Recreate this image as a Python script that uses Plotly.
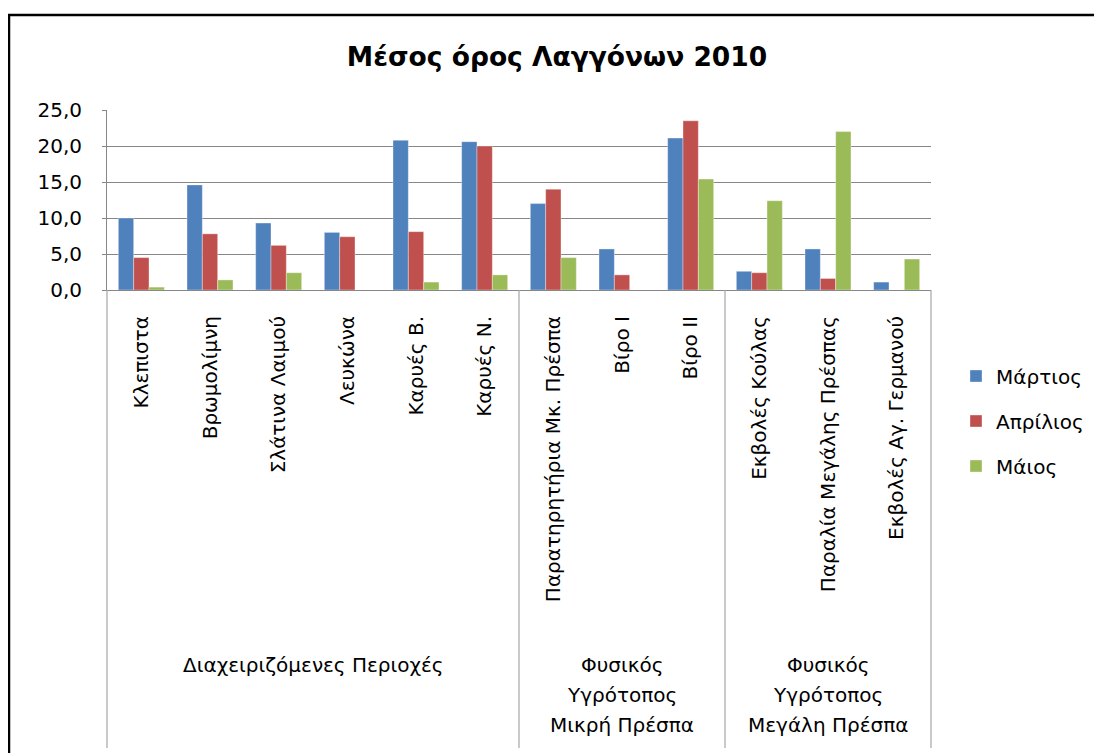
import plotly.graph_objects as go

categories = ["Κλεπιστα", "Βρωμολίμνη", "Σλάτινα Λαιμού", "Λευκώνα", "Καρυές Β.", "Καρυές Ν.",
              "Παρατηρητήρια Μκ. Πρέσπα", "Βίρο Ι", "Βίρο ΙΙ",
              "Εκβολές Κούλας", "Παραλία Μεγάλης Πρέσπας", "Εκβολές Αγ. Γερμανού"]
series_names = ["Μάρτιος", "Απρίλιος", "Μάιος"]
martios = [10.0, 14.6, 9.3, 8.0, 20.8, 20.6, 12.0, 5.7, 21.1, 2.6, 5.7, 1.1]
aprilios = [4.5, 7.8, 6.2, 7.4, 8.1, 20.0, 14.0, 2.1, 23.5, 2.4, 1.6, None]
maios = [0.4, 1.4, 2.4, None, 1.1, 2.1, 4.5, None, 15.4, 12.4, 22.0, 4.3]
group_labels = [["Διαχειριζόμενες Περιοχές"],
                ["Φυσικός", "Υγρότοπος", "Μικρή Πρέσπα"],
                ["Φυσικός", "Υγρότοπος", "Μεγάλη Πρέσπα"]]
group_sizes = [6, 3, 3]
y_ticks = [0, 5, 10, 15, 20, 25]
y_tick_labels = ["0,0", "5,0", "10,0", "15,0", "20,0", "25,0"]
title_text = "Μέσος όρος Λαγγόνων 2010"

colors = ["#4F81BD", "#C0504D", "#9BBB59"]
FONT = "DejaVu Sans"
OFF = 8  # page body margin
W, H = 1102, 753
L, R, T, B = 107 - OFF, 931 - OFF, 110 - OFF, 290 - OFF
ph = B - T
pw = R - L

fig = go.Figure()
for i, (name, vals) in enumerate(zip(series_names, [martios, aprilios, maios])):
    fig.add_trace(go.Bar(x=categories, y=vals, name=name, marker_color=colors[i],
                         marker_line=dict(color="rgba(255,255,255,0.6)", width=0.6),
                         legendgroup=name))

def py(screen_y):
    return (B - (screen_y - OFF)) / ph

def px(screen_x):
    return ((screen_x - OFF) - L) / pw

shapes = []
n = len(categories)
pos = 0
bounds = [0]
for s in group_sizes:
    pos += s
    bounds.append(pos)
for b in bounds:
    shapes.append(dict(type="line", xref="paper", yref="paper", x0=b / n, x1=b / n,
                       y0=0, y1=py(748), line=dict(color="#A6A6A6", width=1.2)))
# outer frame
shapes.append(dict(type="rect", xref="paper", yref="paper",
                   x0=px(9), x1=3, y0=-5, y1=py(15),
                   line=dict(color="black", width=2.5), fillcolor="rgba(0,0,0,0)"))

annotations = []
for gi, lines in enumerate(group_labels):
    cx = (bounds[gi] + bounds[gi + 1]) / 2 / n
    ys = [665] if len(lines) == 1 else [665, 695, 725]
    for line, yy in zip(lines, ys):
        annotations.append(dict(text=line, xref="paper", yref="paper", x=cx, y=py(yy),
                                showarrow=False, xanchor="center", yanchor="middle",
                                font=dict(family=FONT, size=20, color="#000")))

fig.update_layout(
    width=W, height=H,
    margin=dict(l=L, r=W - R, t=T, b=H - B, pad=0),
    paper_bgcolor="white", plot_bgcolor="white",
    title=dict(text=title_text, x=(557 - OFF) / W, y=1 - (57 - OFF) / H,
               xref="container", yref="container",
               xanchor="center", yanchor="middle",
               font=dict(family=FONT, size=26.5, color="#000", weight="bold")),
    barmode="group", bargap=0.33, bargroupgap=0,
    showlegend=True,
    legend=dict(x=px(956), xanchor="left", y=py(421), yanchor="middle",
                font=dict(family=FONT, size=20, color="#000"),
                tracegroupgap=16, bgcolor="rgba(0,0,0,0)"),
    shapes=shapes, annotations=annotations,
    xaxis=dict(type="category", tickangle=-90, showgrid=False, showline=True,
               linecolor="#878787", linewidth=1, ticks="",
               tickfont=dict(family=FONT, size=20, color="#000"),
               ticklabelstandoff=17, range=[-0.5, n - 0.5]),
    yaxis=dict(range=[0, 25], tickvals=y_ticks, ticktext=y_tick_labels,
               showgrid=True, gridcolor="#878787", gridwidth=1,
               showline=True, linecolor="#878787", linewidth=1,
               ticks="outside", ticklen=4, tickcolor="#878787",
               tickfont=dict(family=FONT, size=20, color="#000"),
               ticklabelstandoff=16, zeroline=False),
)
fig.write_html("out.html")
